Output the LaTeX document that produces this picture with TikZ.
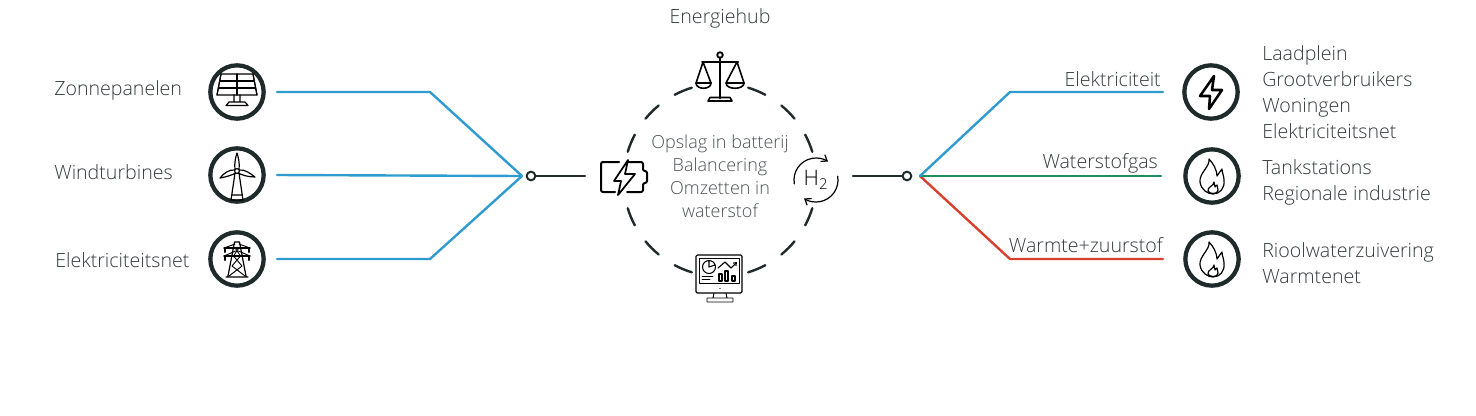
\documentclass[tikz,border=0pt]{standalone}
\usepackage{fontspec}
\setmainfont{Open Sans}[UprightFont=* Light]
\usepackage{tikz}
\usetikzlibrary{arrows.meta}
\definecolor{inkdark}{HTML}{1F2A2B}
\definecolor{labelgray}{HTML}{34393C}
\definecolor{hubgray}{HTML}{4C5154}
\definecolor{feedblue}{HTML}{2F9BD0}
\definecolor{feedgreen}{HTML}{1E8F5A}
\definecolor{feedred}{HTML}{D8402E}
\tikzset{
  ring/.style={circle,draw=inkdark,line width=3.2pt,minimum size=40pt,inner sep=0pt,outer sep=0pt},
  joint/.style={circle,draw=inkdark,line width=1.5pt,minimum size=6.5pt,inner sep=0pt,outer sep=0pt},
  wire/.style={line width=1.8pt},
  stub/.style={draw=inkdark,line width=1.8pt},
  glyph/.style={draw=black,line width=.9pt},
  lbl/.style={text=labelgray,font=\fontsize{14.7}{17}\selectfont,inner sep=0pt},
  lst/.style={lbl,anchor=west,align=left,font=\fontsize{14.7}{19.5}\selectfont},
  solarpic/.pic={
    \draw[glyph] (-16,-18) -- (16,-18) -- (20,3) -- (-20,3) -- cycle;
    \foreach \k in {-.5,0,.5}
      \draw[glyph,line width=.8pt] (\k*32,-18) -- (\k*40,3);
    \draw[glyph,line width=.8pt] (-17.3,-11) -- (17.3,-11) (-18.7,-4) -- (18.7,-4);
    \draw[glyph] (-3,3) -- (-3,10) (3,3) -- (3,10) (-11,13.5) -- (-8,10) -- (8,10) -- (11,13.5) -- cycle;
  },
  windpic/.pic={
    \draw[glyph] (-2,-2) -- (-6,25) -- (6,25) -- (2,-2) (-5.3,20) -- (5.3,20);
    \draw[glyph] (-2,-5) .. controls (-3,-12) and (-1,-19) .. (0,-22) .. controls (1,-19) and (3,-12) .. (2,-5);
    \draw[glyph] (-2,-5) .. controls (-8,-6) and (-14,-1) .. (-17,3) .. controls (-11,2) and (-5,0) .. (-1,-2);
    \draw[glyph] (2,-5) .. controls (8,-6) and (14,-1) .. (18,2) .. controls (11,2) and (5,0) .. (1,-2);
    \draw[glyph,fill=white] (0,-4) circle (2.4);
  },
  towerpic/.pic={
    \draw[glyph] (-2.5,-17) -- (2.5,-17) (-2.5,-17) -- (-9,17) (2.5,-17) -- (9,17) (-11,18) -- (11,18);
    \draw[glyph] (-13,-11) -- (13,-11) (-13,-3) -- (13,-3);
    \draw[glyph,line width=.7pt] (-13,-11) -- (-2,-15) (13,-11) -- (2,-15) (-13,-3) -- (-1.5,-8) (13,-3) -- (1.5,-8);
    \draw[glyph,line width=1.5pt] (-12,-11) -- (-12,-7) (12,-11) -- (12,-7) (-12,-3) -- (-12,1) (12,-3) -- (12,1);
    \draw[glyph,line width=.7pt] (-1.8,-11) -- (3.5,-3) -- (-5,7) -- (8,17) (1.8,-11) -- (-3.5,-3) -- (5,7) -- (-8,17);
  },
  boltpic/.pic={
    \draw[draw=black,line width=1.9pt,line join=round] (3,-16) -- (-11,4) -- (-1,4) -- (-2,17) -- (11,-2) -- (1,-2) -- cycle;
  },
  flamepic/.pic={
    \draw[glyph] (-3,-17) .. controls (-2,-9) and (-13,-3) .. (-12,6) .. controls (-11,14) and (-4,18) .. (1,18)
      .. controls (8,18) and (13,12) .. (12,4) .. controls (12,0) and (10,-3) .. (10,-7)
      .. controls (8,-4) and (6,-2) .. (5,0) .. controls (5,-6) and (1,-13) .. (-3,-17) -- cycle;
    \draw[glyph] (2,6) .. controls (2,10) and (-5,11) .. (-4,15) .. controls (-3,18) and (6,19) .. (6,14)
      .. controls (6,12) and (5,11) .. (5,9) .. controls (4,10) and (3,10) .. (3,11) .. controls (3,9) and (3,8) .. (2,6) -- cycle;
  },
  batterypic/.pic={
    \draw[glyph,rounded corners=1.5pt,line width=1.5pt] (-4,-15) -- (-22,-15) -- (-22,15) -- (-8,15);
    \draw[glyph,rounded corners=1.5pt,line width=1.5pt] (5,-15) -- (20,-15) -- (20,-6) -- (24,-6) -- (24,6) -- (20,6) -- (20,15) -- (4,15);
    \draw[glyph,line width=1.3pt] (5,-17) -- (-9,4) -- (-2,4) -- (-5,18) -- (12,-3) -- (2,-3) -- cycle;
  },
  h2pic/.pic={
    \draw[glyph,-{Straight Barb[length=4pt,width=6pt]}] (170:22) arc[start angle=170,end angle=303,radius=22];
    \draw[glyph,-{Straight Barb[length=4pt,width=6pt]}] (-10:22) arc[start angle=-10,end angle=123,radius=22];
  },
  scalepic/.pic={
    \draw[glyph,line width=1.4pt] (0,-21) circle (2.8);
    \draw[glyph,line width=2.2pt] (0,-18) -- (0,22);
    \draw[glyph,line width=1.5pt] (-18,-14) -- (18,-14);
    \draw[glyph,line width=1.2pt] (-17,-14) -- (-24,7) -- (-9,7) -- cycle (17,-14) -- (6,7) -- (24,7) -- cycle;
    \draw[glyph,line width=1.2pt] (-24,7) .. controls (-24,14) and (-9,14) .. (-9,7) (6,7) .. controls (6,14) and (24,14) .. (24,7);
    \draw[glyph,line width=1.2pt] (-12,25) -- (12,25) -- (10,21.5) -- (-10,21.5) -- cycle;
  },
  screenpic/.pic={
    \draw[glyph,rounded corners=1pt] (-24,-23) rectangle (22,15);
    \draw[glyph,line width=.7pt] (-21,-20) rectangle (19,5);
    \draw[glyph,line width=.8pt] (-11,-11) circle (6.5) (-11,-11) -- (-11,-17.5) (-11,-11) -- (-5,-13);
    \draw[glyph,line width=.7pt] (-18,-1.5) -- (-7,-1.5) (-18,1.5) -- (-10,1.5);
    \draw[glyph,line width=.8pt] (-1,-4) rectangle (2,3) (5,-7) rectangle (8,3) (12,-2) rectangle (15,3);
    \draw[glyph,line width=.8pt,-{Straight Barb[length=2pt,width=3pt]}] (-2,-10) -- (5,-16) -- (11,-10) -- (17,-16);
    \draw[glyph,line width=.7pt] (-6,15) -- (-7,20) (6,15) -- (7,20) (-13,20) rectangle (13,24);
    \fill (0,10.5) circle (.7);
  }
}
\begin{document}
\begin{tikzpicture}[x=0.75pt,y=-0.75pt,line join=round,line cap=round]
  \useasboundingbox (0,0) rectangle (1476,415);
  \node[ring] (solar) at (237,92) {};
  \node[ring] (wind) at (237,175) {};
  \node[ring] (grid) at (237,259) {};
  \node[ring] (power) at (1211,92) {};
  \node[ring] (gas) at (1212,176) {};
  \node[ring] (heat) at (1212,259) {};
  \pic at (solar) {solarpic};
  \pic at (wind) {windpic};
  \pic at (grid) {towerpic};
  \pic at (power) {boltpic};
  \pic at (gas) {flamepic};
  \pic at (heat) {flamepic};
  \node[lbl,anchor=base west] (solartxt) at (54,95) {Zonnepanelen};
  \node[lbl,anchor=base west] (windtxt) at (54,179) {Windturbines};
  \node[lbl,anchor=base west] (gridtxt) at (55,267) {Elektriciteitsnet};
  \node[lst] (powerlist) at (1262,92) {Laadplein\\Grootverbruikers\\Woningen\\Elektriciteitsnet};
  \node[lst] (gaslist) at (1262,182.5) {Tankstations\\Regionale industrie};
  \node[lst] (heatlist) at (1262,263) {Rioolwaterzuivering\\Warmtenet};
  \coordinate (solarout) at (277,92);
  \coordinate (windout) at (277,175);
  \coordinate (gridout) at (277,259);
  \coordinate (solarbend) at (430,92);
  \coordinate (gridbend) at (430,259);
  \coordinate (merge) at (522,176);
  \coordinate (split) at (920,176);
  \coordinate (powerbend) at (1010,92);
  \coordinate (heatbend) at (1010,259);
  \coordinate (powerend) at (1163,92);
  \coordinate (gasend) at (1161,176);
  \coordinate (heatend) at (1163,259);
  \draw[wire,feedblue] (solarout) -- (solarbend) -- (merge);
  \draw[wire,feedblue] (windout) -- (merge);
  \draw[wire,feedblue] (gridout) -- (gridbend) -- (merge);
  \draw[wire,feedred] (split) -- (heatbend) -- (heatend);
  \draw[wire,feedgreen] (split) -- (gasend);
  \draw[wire,feedblue] (split) -- (powerbend) -- (powerend);
  \node[lbl,anchor=base east] (powertxt) at (1161,86) {Elektriciteit};
  \node[lbl,anchor=base east] (gastxt) at (1158,168) {Waterstofgas};
  \node[lbl,anchor=base east] (heattxt) at (1163,252) {Warmte+zuurstof};
  \node[joint] (jointin) at (531,176) {};
  \node[joint] (jointout) at (907,176) {};
  \coordinate (stubin) at (585,176);
  \coordinate (stubout) at (853,176);
  \draw[stub] (jointin) -- (stubin);
  \draw[stub] (stubout) -- (jointout);
  \coordinate (hub) at (720,180);
  \foreach \a in {22.5,45,67.5,112.5,135,157.5,202.5,225,247.5,292.5,315,337.5}
    \draw[stub] (hub) ++(\a-5.5:96.5) arc[start angle=\a-5.5,end angle=\a+5.5,radius=96.5];
  \node[lbl,text=hubgray,align=center,font=\fontsize{13.5}{17.3}\selectfont] (hubtxt) at (720,176) {Opslag in batterij\\Balancering\\Omzetten in\\waterstof};
  \node[lbl,anchor=base] (hubtitle) at (720,23) {Energiehub};
  \pic at (623,177) {batterypic};
  \pic at (720,76) {scalepic};
  \pic at (720,278) {screenpic};
  \pic at (816,180) {h2pic};
  \node[lbl,text=black,font=\fontsize{16}{16}\selectfont] (h2txt) at (816,180) {H\textsubscript{2}};
\end{tikzpicture}
\end{document}
